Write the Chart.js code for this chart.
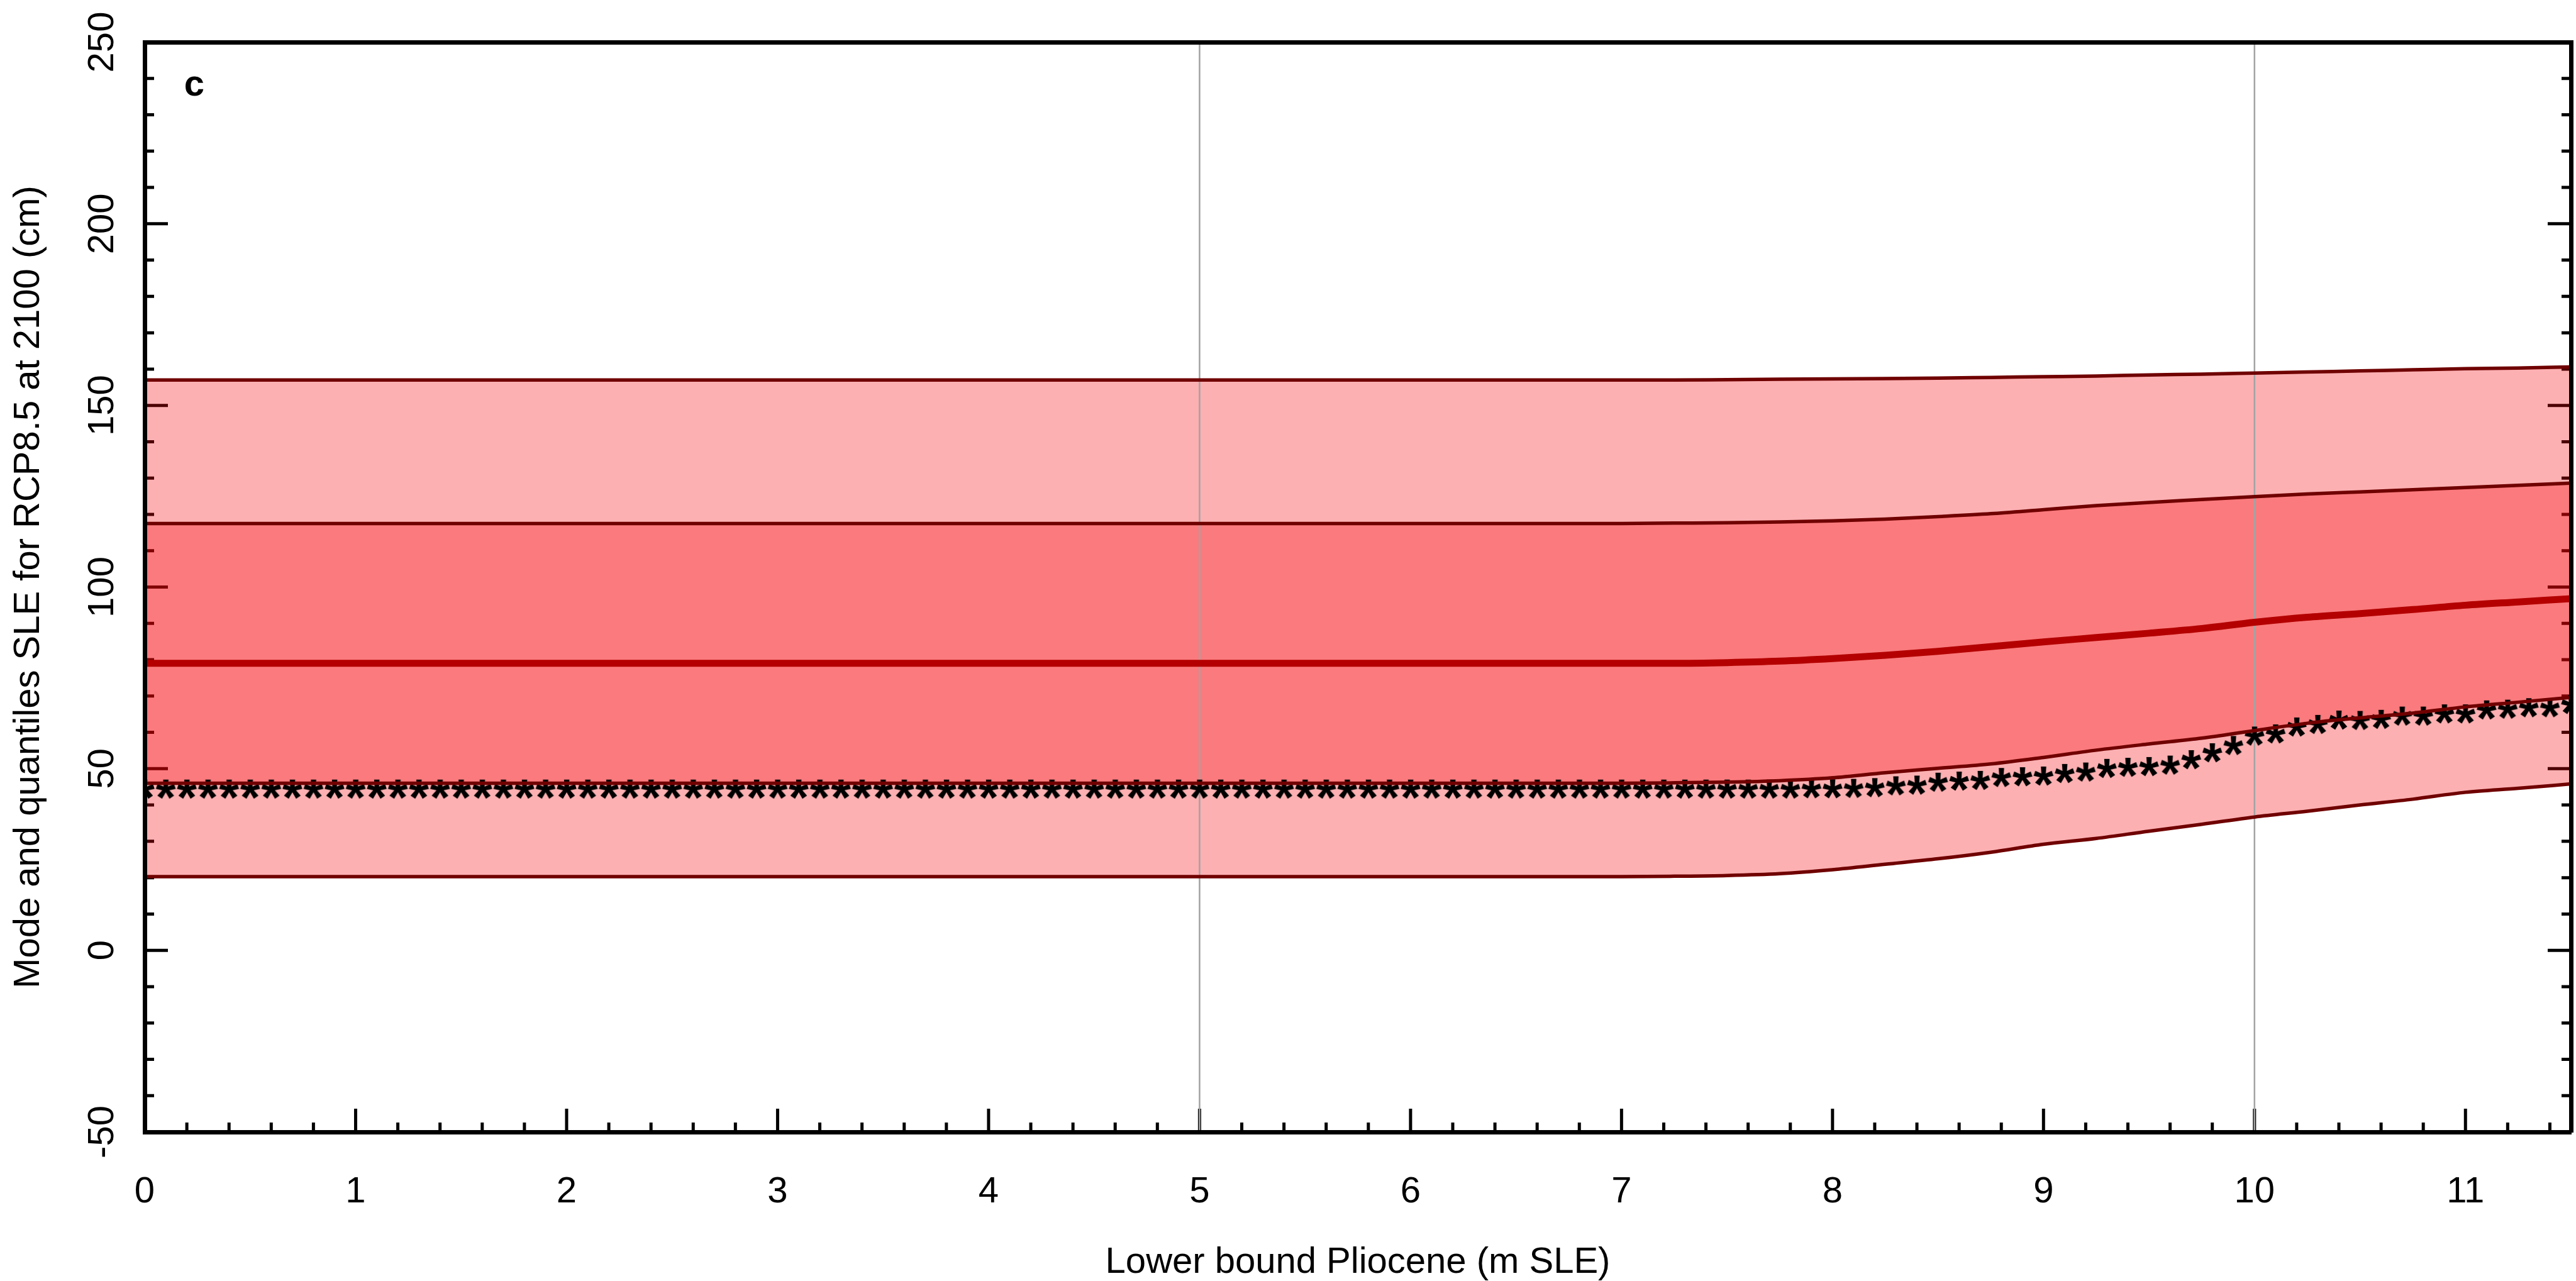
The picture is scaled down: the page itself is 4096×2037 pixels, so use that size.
<!DOCTYPE html>
<html>
<head>
<meta charset="utf-8">
<script src="https://cdn.jsdelivr.net/npm/chart.js@4.4.0/dist/chart.umd.min.js"></script>
<style>
  html, body { margin: 0; padding: 0; background: #fff; }
  canvas { display: block; }
</style>
</head>
<body>
<canvas id="sleChart" width="4096" height="2037"></canvas>
<script>
"use strict";

// lower bound Pliocene (m SLE) at which quantile lines were read
const lineX = [0, 1, 2, 3, 4, 5, 6, 7, 7.25, 7.5, 7.75, 8, 8.25, 8.5, 8.75, 9, 9.25, 9.5, 9.75, 10, 10.25, 10.5, 10.75, 11, 11.25, 11.5];

const q95 = [157, 157, 157, 157, 157, 157, 157, 157, 157.0, 157.1, 157.2, 157.3, 157.4, 157.5, 157.7, 157.9, 158.1, 158.4, 158.6, 158.9, 159.2, 159.5, 159.8, 160.1, 160.3, 160.6];
const q83 = [117.5, 117.5, 117.5, 117.5, 117.5, 117.5, 117.5, 117.5, 117.6, 117.7, 117.9, 118.2, 118.7, 119.4, 120.2, 121.3, 122.4, 123.3, 124.1, 124.9, 125.6, 126.2, 126.8, 127.4, 128.0, 128.6];
const q50 = [79, 79, 79, 79, 79, 79, 79, 79, 79.0, 79.2, 79.6, 80.3, 81.2, 82.3, 83.6, 84.9, 86.1, 87.3, 88.6, 90.3, 91.7, 92.7, 93.8, 95.0, 95.9, 96.8];
const q17 = [46, 46, 46, 46, 46, 46, 46, 46, 46.1, 46.3, 46.7, 47.5, 48.9, 50.1, 51.3, 53.1, 55.1, 56.8, 58.4, 60.5, 62.5, 64.0, 65.3, 67.0, 68.3, 69.6];
const q05 = [20.3, 20.3, 20.3, 20.3, 20.3, 20.3, 20.3, 20.3, 20.4, 20.6, 21.1, 22.2, 23.7, 25.2, 27.0, 29.2, 30.8, 32.8, 34.7, 36.7, 38.3, 40.0, 41.6, 43.5, 44.6, 45.8];

// mode, one star every 0.1 m
const modeX = [
	0, 0.1, 0.2, 0.3, 0.4, 0.5, 0.6, 0.7, 0.8, 0.9,
	1, 1.1, 1.2, 1.3, 1.4, 1.5, 1.6, 1.7, 1.8, 1.9,
	2, 2.1, 2.2, 2.3, 2.4, 2.5, 2.6, 2.7, 2.8, 2.9,
	3, 3.1, 3.2, 3.3, 3.4, 3.5, 3.6, 3.7, 3.8, 3.9,
	4, 4.1, 4.2, 4.3, 4.4, 4.5, 4.6, 4.7, 4.8, 4.9,
	5, 5.1, 5.2, 5.3, 5.4, 5.5, 5.6, 5.7, 5.8, 5.9,
	6, 6.1, 6.2, 6.3, 6.4, 6.5, 6.6, 6.7, 6.8, 6.9,
	7, 7.1, 7.2, 7.3, 7.4, 7.5, 7.6, 7.7, 7.8, 7.9,
	8, 8.1, 8.2, 8.3, 8.4, 8.5, 8.6, 8.7, 8.8, 8.9,
	9, 9.1, 9.2, 9.3, 9.4, 9.5, 9.6, 9.7, 9.8, 9.9,
	10, 10.1, 10.2, 10.3, 10.4, 10.5, 10.6, 10.7, 10.8, 10.9,
	11, 11.1, 11.2, 11.3, 11.4, 11.5
];
const modeY = [
	44.4, 44.4, 44.4, 44.4, 44.4, 44.4, 44.4, 44.4, 44.4, 44.4,
	44.4, 44.4, 44.4, 44.4, 44.4, 44.4, 44.4, 44.4, 44.4, 44.4,
	44.4, 44.4, 44.4, 44.4, 44.4, 44.4, 44.4, 44.4, 44.4, 44.4,
	44.4, 44.4, 44.4, 44.4, 44.4, 44.4, 44.4, 44.4, 44.4, 44.4,
	44.4, 44.4, 44.4, 44.4, 44.4, 44.4, 44.4, 44.4, 44.4, 44.4,
	44.4, 44.4, 44.4, 44.4, 44.4, 44.4, 44.4, 44.4, 44.4, 44.4,
	44.4, 44.4, 44.4, 44.4, 44.4, 44.4, 44.4, 44.4, 44.4, 44.4,
	44.4, 44.4, 44.4, 44.4, 44.4, 44.4, 44.4, 44.4, 44.4, 44.5,
	44.5, 44.6, 44.8, 45.3, 45.5, 46.3, 46.6, 46.8, 47.6, 47.8,
	48.0, 48.7, 49.1, 50.1, 50.4, 50.6, 51.0, 52.5, 54.4, 56.4,
	59.0, 59.6, 61.5, 62.2, 63.4, 63.3, 63.6, 64.5, 64.5, 65.1,
	65.1, 66.2, 66.4, 66.8, 66.8, 67.7
];

const vLines = [5, 10];
const xTitle = 'Lower bound Pliocene (m SLE)';
const yTitle = 'Mode and quantiles SLE for RCP8.5 at 2100 (cm)';

const FONT = '"Liberation Sans", Arial, Helvetica, sans-serif';
const BAND = 'rgba(246, 0, 8, 0.31)';
const EDGE = '#700000';

Chart.defaults.font.family = FONT;
Chart.defaults.color = '#000';

const toPoints = (xs, ys) => xs.map((x, i) => ({ x: x, y: ys[i] }));
const isWhole = (v) => Math.abs(v - Math.round(v)) < 1e-6;

// asterisk glyph used as point marker
const makeStar = () => {
	const c = document.createElement('canvas');
	c.width = 34; c.height = 34;
	const g = c.getContext('2d');
	g.font = 'bold 82px ' + FONT;
	g.fillStyle = '#000';
	g.textAlign = 'left';
	g.textBaseline = 'alphabetic';
	const m = g.measureText('*');
	const w = m.actualBoundingBoxLeft + m.actualBoundingBoxRight;
	const h = m.actualBoundingBoxAscent + m.actualBoundingBoxDescent;
	g.fillText('*', 17 - w / 2 + m.actualBoundingBoxLeft, 17 - h / 2 + m.actualBoundingBoxAscent);
	return c;
};

const frame = {
	id: 'frame',
	beforeDraw: (chart) => {
		const { ctx, chartArea: a, scales } = chart;
		ctx.save();
		ctx.strokeStyle = '#000';
		ctx.lineWidth = 5;
		ctx.beginPath();
		scales.x.ticks.forEach(t => {
			const px = scales.x.getPixelForValue(t.value);
			const len = isWhole(t.value) ? 37 : 15;
			ctx.moveTo(px, a.bottom);
			ctx.lineTo(px, a.bottom - len);
		});
		[['y', a.left, 1], ['y2', a.right, -1]].forEach(([id, edge, dir]) => {
			const s = scales[id];
			s.ticks.forEach(t => {
				const py = s.getPixelForValue(t.value);
				const len = Math.round(t.value) % 50 === 0 ? 37 : 15;
				ctx.moveTo(edge, py);
				ctx.lineTo(edge + dir * len, py);
			});
		});
		ctx.stroke();
		ctx.restore();
	},
	beforeDatasetsDraw: (chart) => {
		const { ctx, chartArea: a, scales } = chart;
		ctx.save();
		ctx.strokeStyle = '#a3a3a3';
		ctx.lineWidth = 2.5;
		ctx.beginPath();
		vLines.forEach(v => {
			const px = scales.x.getPixelForValue(v);
			ctx.moveTo(px, a.top);
			ctx.lineTo(px, a.bottom);
		});
		ctx.stroke();
		ctx.restore();
	},
	afterDatasetsDraw: (chart) => {
		const { ctx, scales } = chart;
		ctx.save();
		ctx.font = 'bold 58px ' + FONT;
		ctx.fillStyle = '#000';
		ctx.textAlign = 'center';
		ctx.textBaseline = 'middle';
		ctx.fillText('c', scales.x.getPixelForValue(0.235), scales.y.getPixelForValue(238));
		ctx.restore();
	}
};

const lineSet = (label, ys, extra) => Object.assign({
	label: label,
	data: toPoints(lineX, ys),
	borderColor: EDGE,
	borderWidth: 5.5,
	pointRadius: 0,
	cubicInterpolationMode: 'monotone',
	fill: false
}, extra);

new Chart(document.getElementById('sleChart'), {
	type: 'line',
	data: {
		datasets: [
			lineSet('q95', q95, { fill: 4, backgroundColor: BAND }),
			lineSet('q83', q83, { fill: 3, backgroundColor: BAND }),
			lineSet('median', q50, { borderColor: '#b40000', borderWidth: 11 }),
			lineSet('q17', q17),
			lineSet('q05', q05),
			{
				label: 'mode',
				data: toPoints(modeX, modeY),
				showLine: false,
				pointStyle: makeStar(),
				pointRadius: 10,
				clip: 0
			}
		]
	},
	options: {
		responsive: false,
		devicePixelRatio: 1,
		animation: false,
		events: [],
		layout: { autoPadding: false, padding: { top: 67, right: 8, left: 0, bottom: 0 } },
		plugins: {
			legend: { display: false },
			tooltip: { enabled: false },
			filler: { drawTime: 'beforeDatasetsDraw' }
		},
		scales: {
			x: {
				type: 'linear',
				position: 'bottom',
				min: 0,
				max: 11.5,
				grid: { display: false, drawTicks: false },
				border: { display: true, color: '#000', width: 7, z: 1 },
				ticks: {
					stepSize: 0.2,
					includeBounds: false,
					autoSkip: false,
					maxRotation: 0,
					padding: 0,
					// tall line box pushes the labels down instead of tick padding
					font: { size: 58, lineHeight: '192px' },
					callback: (v) => isWhole(v) ? String(Math.round(v)) : ''
				},
				title: { display: true, text: xTitle, font: { size: 58, lineHeight: 1 }, padding: { top: 0, bottom: 0 } },
				afterFit: (s) => { s.height = 237; }
			},
			x2: {
				type: 'linear',
				position: 'top',
				min: 0,
				max: 11.5,
				grid: { display: false, drawTicks: false },
				border: { display: true, color: '#000', width: 7, z: 1 },
				ticks: { display: false },
				afterFit: (s) => { s.height = 0; }
			},
			y: {
				type: 'linear',
				position: 'left',
				min: -50,
				max: 250,
				grid: { display: false, drawTicks: false },
				border: { display: true, color: '#000', width: 7, z: 1 },
				ticks: {
					stepSize: 10,
					autoSkip: false,
					minRotation: 90,
					maxRotation: 90,
					crossAlign: 'center',
					padding: 18,
					font: { size: 58 },
					callback: (v) => Math.round(v) % 50 === 0 ? String(v) : ''
				},
				title: { display: true, text: yTitle, font: { size: 58 }, padding: { top: 11, bottom: 0 } },
				afterFit: (s) => { s.width = 230; }
			},
			y2: {
				type: 'linear',
				position: 'right',
				min: -50,
				max: 250,
				grid: { display: false, drawTicks: false },
				border: { display: true, color: '#000', width: 7, z: 1 },
				ticks: { display: false, stepSize: 10, autoSkip: false },
				afterFit: (s) => { s.width = 0; }
			}
		}
	},
	plugins: [frame]
});
</script>
</body>
</html>
